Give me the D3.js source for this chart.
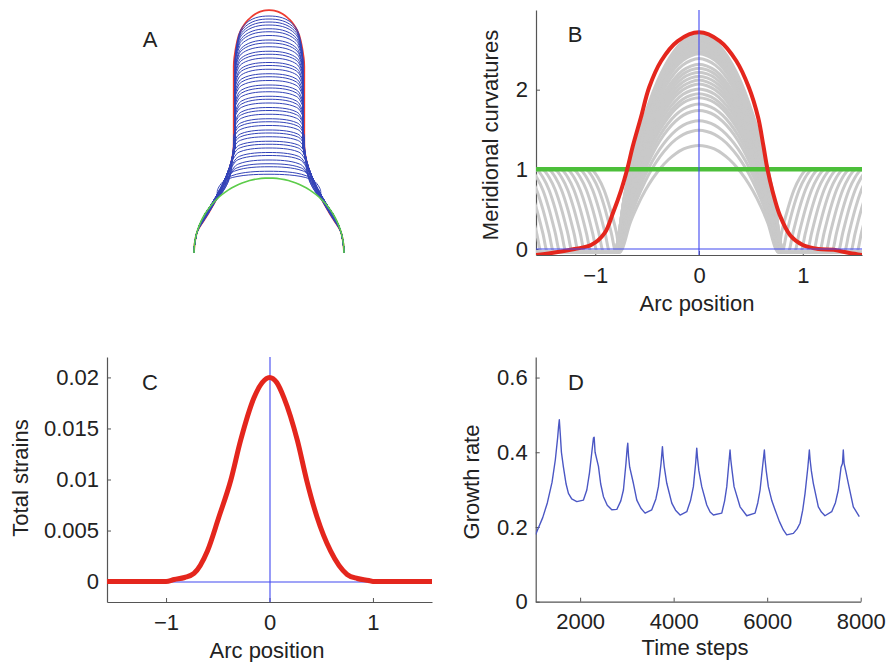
<!DOCTYPE html>
<html>
<head>
<meta charset="utf-8">
<script src="https://cdn.jsdelivr.net/npm/d3@7"></script>
<style>
  html, body { margin: 0; padding: 0; background: #fff; }
  svg { display: block; }
</style>
</head>
<body>
<svg id="fig" width="893" height="662"></svg>
<script>
const FONT = '"Liberation Sans", Arial, Helvetica, sans-serif';
const HALF_PI = Math.PI / 2;

// ---------------- Panel A: tip outlines (base sphere radius = 1) ----------------
const tipHeights = [1.05, 1.09, 1.15, 1.19, 1.24, 1.30, 1.34, 1.40, 1.45, 1.49,
                    1.55, 1.60, 1.64, 1.70, 1.75, 1.79, 1.85, 1.90, 1.94, 2.00,
                    2.05, 2.09, 2.15, 2.20, 2.24, 2.30, 2.35, 2.39, 2.45, 2.50,
                    2.54, 2.60, 2.65, 2.69, 2.75, 2.80, 2.84, 2.90, 2.95, 2.99,
                    3.04, 3.08, 3.12, 3.16];
const capDepths = [0.20, 0.19, 0.18, 0.17, 0.17, 0.16, 0.16, 0.16, 0.15, 0.15,
                   0.15, 0.16, 0.16, 0.16, 0.17, 0.17, 0.17, 0.18, 0.18, 0.18,
                   0.19, 0.19, 0.19, 0.20, 0.20, 0.20, 0.21, 0.21, 0.22, 0.22,
                   0.23, 0.24, 0.25, 0.26, 0.28, 0.30, 0.32, 0.34, 0.36, 0.38,
                   0.41, 0.44, 0.47, 0.50];
const tubeWidths = [0.69, 0.62, 0.57, 0.53, 0.51, 0.50, 0.49, 0.485, 0.48, 0.48,
                    0.475, 0.475, 0.47, 0.47, 0.47, 0.465, 0.46, 0.46, 0.455, 0.455,
                    0.45, 0.45, 0.45, 0.45, 0.45, 0.45, 0.45, 0.45, 0.45, 0.45,
                    0.45, 0.45, 0.45, 0.45, 0.45, 0.45, 0.45, 0.45, 0.45, 0.45,
                    0.45, 0.45, 0.45, 0.45];
const neckAngles = [49, 50, 51, 52, 53, 54, 55, 56, 57, 57,
                    58, 58, 59, 59, 60, 60, 61, 61, 62, 62,
                    63, 63, 64, 64, 65, 65, 66, 66, 67, 67,
                    68, 68, 68, 69, 69, 69, 70, 70, 70, 71,
                    71, 71, 72, 72];
const neckSlope = 2.3;
const neckBend = 1.6;
const capPower = 2.4;
const finalTip = { height: 3.24, depth: 0.67, width: 0.47, neck: 72, power: 2 };
const baseSphereAngles = d3.range(-90, 91, 3);

// ---------------- Panel B: meridional curvature ----------------
const finalCurvature = [
  [-1.5708, -0.075], [-1.42, -0.05], [-1.2, 0.0], [-1.04, 0.05], [-0.91, 0.20],
  [-0.83, 0.45], [-0.75, 0.74], [-0.69, 1.01], [-0.64, 1.28], [-0.56, 1.65],
  [-0.48, 2.03], [-0.365, 2.36], [-0.205, 2.61], [0, 2.72], [0.2, 2.61],
  [0.36, 2.36], [0.48, 2.03], [0.57, 1.65], [0.62, 1.30], [0.66, 1.0],
  [0.71, 0.72], [0.78, 0.42], [0.88, 0.17], [1.0, 0.05], [1.15, 0.0],
  [1.3, -0.01], [1.45, -0.05], [1.5708, -0.075]
];
const initialCurvature = 1;
const grayPeaks  = [1.30, 1.49, 1.61, 1.74, 1.82, 1.90, 1.95, 2.01, 2.07, 2.12,
                    2.17, 2.22, 2.27, 2.32, 2.39, 2.45, 2.48, 2.51, 2.54, 2.57,
                    2.60, 2.63, 2.66, 2.69];
const grayWidths = [0.74, 0.745, 0.75, 0.75, 0.755, 0.76, 0.76, 0.765, 0.77, 0.77,
                    0.775, 0.78, 0.78, 0.785, 0.785, 0.79, 0.79, 0.79, 0.795, 0.795,
                    0.80, 0.80, 0.80, 0.80];
const grayRises  = [0.75, 0.80, 0.86, 0.92, 0.98, 1.04, 1.10, 1.16, 1.22, 1.28,
                    1.34, 1.40, 1.46, 1.52, null, null, null, null, null, null,
                    null, null, null, null];
const bumpShape = [1, 0.99, 0.966, 0.923, 0.862, 0.783, 0.684, 0.564, 0.419, 0.244, 0];
const riseSteps = [0, 0.15, 0.35, 0.55, 0.75, 0.9, 1];
const riseShape = [-0.04, 0.2, 0.5, 0.74, 0.9, 0.98, 1];
const riseSpan = 0.3;
const neckLevel = -0.04;

// ---------------- Panel C: total strains ----------------
const totalStrains = [
  [-1.5708, 0], [-1.0, 0], [-0.92, 0.0002], [-0.82, 0.0004], [-0.73, 0.0008],
  [-0.6, 0.003], [-0.49, 0.0063], [-0.375, 0.0099], [-0.28, 0.0138], [-0.15, 0.018],
  [-0.07, 0.0195], [0, 0.02], [0.07, 0.0195], [0.14, 0.018], [0.27, 0.0138],
  [0.36, 0.0099], [0.46, 0.0063], [0.59, 0.003], [0.75, 0.0007], [0.85, 0.0003],
  [0.96, 0.0001], [1.0, 0], [1.5708, 0]
];

// ---------------- Panel D: growth rate ----------------
const timeSteps = [1050, 1100, 1200, 1300, 1400, 1470, 1520, 1540, 1555, 1575,
  1600, 1643, 1700, 1750, 1820, 1929, 2071, 2143, 2200, 2250, 2285, 2300, 2320,
  2392, 2440, 2499, 2580, 2677, 2784, 2870, 2926, 2980, 3005, 3019, 3035, 3060,
  3139, 3212, 3300, 3389, 3532, 3620, 3674, 3730, 3760, 3775, 3800, 3853, 3960,
  4040, 4138, 4281, 4360, 4422, 4470, 4494, 4510, 4540, 4601, 4708, 4780, 4850,
  5029, 5090, 5136, 5180, 5206, 5222, 5250, 5292, 5420, 5563, 5741, 5800, 5848,
  5900, 5940, 5955, 5980, 6025, 6100, 6168, 6260, 6346, 6418, 6560, 6640, 6703,
  6760, 6810, 6870, 6902, 6918, 6945, 6987, 7094, 7160, 7236, 7380, 7460, 7521,
  7580, 7610, 7628, 7645, 7680, 7735, 7842, 7970];
const growthRates = [0.180, 0.195, 0.225, 0.265, 0.320, 0.380, 0.440, 0.470, 0.487, 0.450,
  0.400, 0.360, 0.315, 0.290, 0.275, 0.268, 0.272, 0.299, 0.345, 0.400, 0.438, 0.440, 0.400,
  0.362, 0.315, 0.281, 0.258, 0.246, 0.247, 0.270, 0.299, 0.370, 0.410, 0.424, 0.390, 0.360,
  0.317, 0.272, 0.250, 0.237, 0.246, 0.275, 0.308, 0.370, 0.415, 0.390, 0.360, 0.317, 0.264,
  0.245, 0.232, 0.241, 0.270, 0.308, 0.370, 0.411, 0.385, 0.350, 0.308, 0.259, 0.240, 0.232,
  0.237, 0.270, 0.308, 0.370, 0.406, 0.380, 0.350, 0.308, 0.254, 0.230, 0.237, 0.265, 0.299,
  0.360, 0.406, 0.380, 0.350, 0.308, 0.270, 0.246, 0.215, 0.192, 0.179, 0.183, 0.195, 0.210,
  0.245, 0.290, 0.360, 0.406, 0.380, 0.350, 0.317, 0.254, 0.240, 0.230, 0.241, 0.265, 0.299,
  0.360, 0.370, 0.406, 0.370, 0.350, 0.317, 0.254, 0.228];

const arcTicks = [-1, 0, 1];
const curvTicks = [0, 1, 2];
const strainTicks = [0, 0.005, 0.01, 0.015, 0.02];
const timeTicks = [2000, 4000, 6000, 8000];
const rateTicks = [0, 0.2, 0.4, 0.6];

const COL = {
  axis: "#555", text: "#222", red: "#e4261d", green: "#4cbf3a",
  gray: "#c9c9c9", blue: "#4048f0", profile: "#3343b8", growth: "#4b57c4"
};

const svg = d3.select("#fig");
const defs = svg.append("defs");
const signed = d => (d < 0 ? "\u2212" + Math.abs(d) : String(d));

function clipRect(id, x0, y0, x1, y1) {
  defs.append("clipPath").attr("id", id).append("rect")
    .attr("x", x0).attr("y", y0).attr("width", x1 - x0).attr("height", y1 - y0);
  return `url(#${id})`;
}

function drawAxes(g, x, y, xTicks, yTicks, xFmt, yFmt) {
  const [yb] = y.range();
  const [xl] = x.range();
  const ax = g.append("g").attr("transform", `translate(0,${yb})`)
    .call(d3.axisBottom(x).tickValues(xTicks).tickFormat(xFmt)
      .tickSizeInner(-4).tickSizeOuter(0).tickPadding(12));
  const ay = g.append("g").attr("transform", `translate(${xl},0)`)
    .call(d3.axisLeft(y).tickValues(yTicks).tickFormat(yFmt)
      .tickSizeInner(-4).tickSizeOuter(0).tickPadding(8));
  [ax, ay].forEach(a => {
    a.attr("font-family", FONT).attr("font-size", 22);
    a.select(".domain").attr("stroke", COL.axis).attr("stroke-width", 1.2);
    a.selectAll(".tick line").attr("stroke", COL.axis);
    a.selectAll(".tick text").attr("fill", COL.text);
  });
}

function label(g, text, x, y, rotate) {
  const t = g.append("text").text(text)
    .attr("font-family", FONT).attr("font-size", 22).attr("fill", COL.text)
    .attr("text-anchor", "middle");
  if (rotate) t.attr("transform", `translate(${x},${y}) rotate(-90)`);
  else t.attr("x", x).attr("y", y);
}

// thin reference lines through the origin of a panel
function originLines(plot, x, y) {
  const [x0, x1] = x.range(), [y0, y1] = y.range();
  const cx = Math.round(x(0)), cy = Math.round(y(0));
  plot.append("line").attr("x1", cx).attr("x2", cx).attr("y1", y0).attr("y2", y1)
    .attr("stroke", COL.blue).attr("stroke-width", 1.1);
  plot.append("line").attr("x1", x0).attr("x2", x1).attr("y1", cy).attr("y2", cy)
    .attr("stroke", COL.blue).attr("stroke-width", 1.1);
}

// ================= Panel A =================
(function () {
  const g = svg.append("g");
  const x = d3.scaleLinear().domain([-1, 1]).range([194, 344]);
  const y = d3.scaleLinear().domain([0, 1]).range([253, 178]);
  const rad = d => d * Math.PI / 180;

  // outline of a tip: base sphere, flared neck, tube wall, dome cap (right half mirrored)
  function outline(H, c, w, neckDeg, pw) {
    const phi = rad(neckDeg);
    const right = [];
    for (let a = 90; a > neckDeg; a -= 5) right.push([Math.sin(rad(a)), Math.cos(rad(a))]);
    const xJ = Math.sin(phi), yJ = Math.cos(phi);
    const dx = Math.max(0, xJ - w);
    let base = H - c;
    const yW = Math.min(yJ + neckSlope * dx, base);
    if (base < yW) base = yW;
    for (let k = 0; k <= 10; k++) {
      const s = k / 10;
      right.push([w + dx * Math.pow(1 - s, neckBend), yJ + (yW - yJ) * s]);
    }
    for (let v = yW + 0.12; v < base; v += 0.12) right.push([w, v]);
    right.push([w, base]);
    for (let i = 9; i >= 0; i--) {
      const u = i / 10;
      right.push([w * u, base + (H - base) * Math.pow(1 - Math.pow(u, pw), 1 / pw)]);
    }
    const left = right.map(([px, py]) => [-px, py]);
    return left.concat(right.slice(0, -1).reverse());
  }

  const line = d3.line().x(d => x(d[0])).y(d => y(d[1])).curve(d3.curveBasis);

  g.append("path")
    .datum(outline(finalTip.height, finalTip.depth, finalTip.width, finalTip.neck, finalTip.power))
    .attr("fill", "none").attr("stroke", "#ee3b30").attr("stroke-width", 1.8).attr("d", line);

  g.selectAll("path.profile")
    .data(tipHeights.map((h, i) => outline(h, capDepths[i], tubeWidths[i], neckAngles[i], capPower)))
    .join("path").attr("class", "profile")
    .attr("fill", "none").attr("stroke", COL.profile).attr("stroke-width", 1)
    .attr("d", line);

  g.append("path")
    .datum(baseSphereAngles.map(a => [Math.sin(rad(a)), Math.cos(rad(a))]))
    .attr("fill", "none").attr("stroke", "#5ccc4a").attr("stroke-width", 1.6)
    .attr("d", d3.line().x(d => x(d[0])).y(d => y(d[1])));

  label(g, "A", 150, 47);
})();

// ================= Panel B =================
(function () {
  const g = svg.append("g");
  const x = d3.scaleLinear().domain([-HALF_PI, HALF_PI]).range([536, 862]);
  const y = d3.scaleLinear().domain([-0.075, 3]).range([255, 10]);
  drawAxes(g, x, y, arcTicks, curvTicks, signed, String);
  const clip = clipRect("clipB", 536, 10, 862, 255);
  const plot = g.append("g").attr("clip-path", clip);
  const line = d3.line().x(d => x(d[0])).y(d => y(d[1]));

  function grayCurve(i) {
    const p = grayPeaks[i], w = grayWidths[i], r = grayRises[i];
    const right = bumpShape.map((v, k) => [w * k / 10, p * v]);
    right.push([w + 0.02, neckLevel]);
    if (r !== null) {
      if (r > w + 0.03) right.push([r, neckLevel]);
      riseSteps.forEach((s, k) => { if (k > 0) right.push([r + riseSpan * s, riseShape[k]]); });
      right.push([1.7, 1]);
    } else {
      right.push([1.7, neckLevel]);
    }
    const left = right.slice(1).reverse().map(([s, v]) => [-s, v]);
    return left.concat(right);
  }

  plot.selectAll("path.gray")
    .data(grayPeaks.map((_, i) => grayCurve(i)))
    .join("path").attr("class", "gray")
    .attr("fill", "none").attr("stroke", COL.gray).attr("stroke-width", 3)
    .attr("stroke-linejoin", "round")
    .attr("d", line.curve(d3.curveMonotoneX));

  plot.append("line")
    .attr("x1", x(-HALF_PI)).attr("x2", x(HALF_PI))
    .attr("y1", y(initialCurvature)).attr("y2", y(initialCurvature))
    .attr("stroke", COL.green).attr("stroke-width", 4.5);

  plot.append("path").datum(finalCurvature)
    .attr("fill", "none").attr("stroke", COL.red).attr("stroke-width", 4)
    .attr("stroke-linejoin", "round")
    .attr("d", d3.line().x(d => x(d[0])).y(d => y(d[1])).curve(d3.curveCatmullRom));

  originLines(plot, x, y);

  label(g, "B", 575, 42);
  label(g, "Arc position", 697, 311);
  label(g, "Meridional curvatures", 498, 135, true);
})();

// ================= Panel C =================
(function () {
  const g = svg.append("g");
  const x = d3.scaleLinear().domain([-HALF_PI, HALF_PI]).range([107, 432]);
  const y = d3.scaleLinear().domain([-0.002, 0.022]).range([602, 357]);
  drawAxes(g, x, y, arcTicks, strainTicks, signed, String);
  const clip = clipRect("clipC", 107, 357, 432, 602);
  const plot = g.append("g").attr("clip-path", clip);

  originLines(plot, x, y);

  plot.append("path").datum(totalStrains)
    .attr("fill", "none").attr("stroke", COL.red).attr("stroke-width", 5)
    .attr("stroke-linejoin", "round")
    .attr("d", d3.line().x(d => x(d[0])).y(d => y(d[1])).curve(d3.curveMonotoneX));

  label(g, "C", 150, 390);
  label(g, "Arc position", 267, 658);
  label(g, "Total strains", 28, 478, true);
})();

// ================= Panel D =================
(function () {
  const g = svg.append("g");
  const x = d3.scaleLinear().domain([1050, 8000]).range([535.7, 860.7]);
  const y = d3.scaleLinear().domain([0, 0.655]).range([601.7, 357]);
  drawAxes(g, x, y, timeTicks, rateTicks, String, String);
  const clip = clipRect("clipD", 535.7, 357, 860.7, 601.7);

  g.append("path").attr("clip-path", clip)
    .datum(timeSteps.map((t, i) => [t, growthRates[i]]))
    .attr("fill", "none").attr("stroke", COL.growth).attr("stroke-width", 1.4)
    .attr("stroke-linejoin", "round")
    .attr("d", d3.line().x(d => x(d[0])).y(d => y(d[1])));

  label(g, "D", 576, 390);
  label(g, "Time steps", 695, 655);
  label(g, "Growth rate", 479, 482, true);
})();
</script>
</body>
</html>
